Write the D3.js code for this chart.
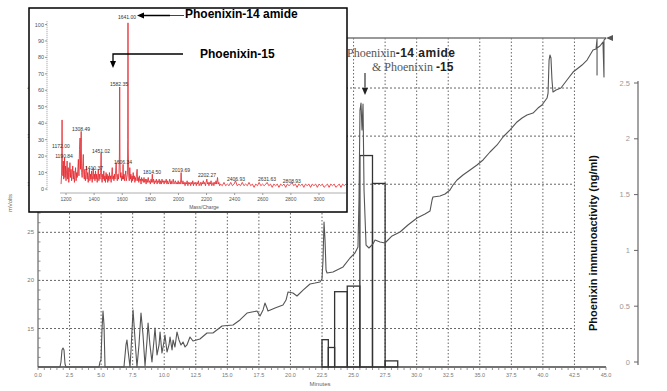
<!DOCTYPE html>
<html><head><meta charset="utf-8">
<script src="https://cdn.jsdelivr.net/npm/d3@7/dist/d3.min.js"></script>
<style>body{margin:0;background:#fff}svg{display:block}text{font-family:"Liberation Sans",Arial,sans-serif}</style>
</head><body>
<svg id="chart" width="667" height="391"></svg>
<script>
// ---------------- DATA ----------------
// HPLC chromatogram: [minutes, mVolts]
const chromatogram = [[0,11],[1.74,11],[1.82,11.52],[1.90,12.77],[1.98,12.98],[2.06,12.77],[2.14,11.31],[2.22,11],
[4.83,11],[4.91,11.52],[4.99,11.73],[5.07,14.85],[5.15,16.82],[5.23,15.37],[5.31,11],[6.81,11],[6.97,13.29],[7.05,13.81],
[7.13,12.77],[7.29,11],[7.37,12.77],[7.53,16.93],[7.69,13.81],[7.84,11],[8.00,13.29],[8.16,16.61],[8.32,14.33],[8.48,11.1],
[8.64,13.81],[8.72,15.57],[8.87,13.29],[9.03,11.52],[9.19,13.81],[9.27,15.05],[9.43,12.25],[9.59,13.29],[9.67,14.64],
[9.82,12.46],[9.98,13.6],[10.06,14.33],[10.22,12.56],[10.38,13.29],[10.46,14.12],[10.62,12.77],[10.70,13.81],[10.85,13.08],
[11.01,14.64],[11.17,13.81],[11.33,13.29],[11.49,13.6],[11.65,13.08],[11.80,13.29],[12.04,14.12],[12.28,13.7],[12.83,13.91],
[13.39,14.53],[13.86,14.53],[14.58,15.26],[15.45,15.37],[16.00,15.89],[16.56,16.61],[16.95,16.72],[17.35,16.82],[17.59,16.3],
[17.83,16.93],[17.98,17.65],[18.14,17.13],[18.22,16.82],[18.78,17.13],[19.41,17.44],[19.65,17.96],[19.81,18.8],[20.20,18.69],
[20.52,18.38],[21.00,19.0],[21.55,19.63],[21.95,19.73],[22.34,19.84],[22.50,20.15],[22.58,22.12],[22.66,26.07],[22.74,24.2],
[22.82,21.08],[22.90,20.77],[23.37,20.88],[24.17,21.4],[24.72,22.33],[25.11,22.85],[25.35,23.47],[25.43,28.36],[25.51,37.72],
[25.59,38.44],[25.67,35.64],[25.75,38.34],[25.83,29.4],[25.99,23.68],[26.22,23.37],[26.54,23.79],[26.70,24.2],[27.10,24.0],
[27.49,23.89],[28.05,24.62],[28.68,25.03],[29.31,25.76],[30.03,26.49],[30.66,26.9],[31.06,27.22],[31.22,28.36],[31.29,28.67],
[31.85,28.78],[32.25,28.98],[32.64,29.4],[32.88,29.92],[33.20,30.44],[33.67,30.96],[34.23,31.48],[34.78,32.0],[35.26,32.52],
[35.81,33.35],[36.37,34.08],[36.84,34.91],[37.40,35.64],[37.95,36.47],[38.35,36.88],[38.74,37.2],[39.22,37.4],[39.61,37.92],
[39.93,38.23],[40.33,38.96],[40.41,39.48],[40.49,42.91],[40.56,43.43],[40.64,43.12],[40.72,40.83],[40.80,39.59],[41.04,39.79],
[41.43,40.0],[41.91,40.83],[42.39,41.66],[42.70,41.98],[43.10,42.39],[43.50,42.91],[43.97,43.95],[44.21,44.06],[44.29,45.1],
[44.29,41.35],[44.29,44.16],[44.52,44.37],[44.76,44.78],[44.84,41.15],[44.84,44.99],[45.0,45.2]];

// Phoenixin immunoactivity per collected fraction (ng/ml)
const fractionStart = [22.5, 23.0, 23.5, 24.5, 25.5, 26.5, 27.5];
const fractionEnd   = [23.0, 23.5, 24.5, 25.5, 26.5, 27.5, 28.5];
const fractionNgMl  = [0.20, 0.13, 0.63, 0.68, 1.85, 1.60, 0.01];

// Axis ticks
const minuteTicks = [0,2.5,5,7.5,10,12.5,15,17.5,20,22.5,25,27.5,30,32.5,35,37.5,40,42.5,45];
const minuteTickLabels = ["0.0","2.5","5.0","7.5","10.0","12.5","15.0","17.5","20.0","22.5","25.0","27.5","30.0","32.5","35.0","37.5","40.0","42.5","45.0"];
const mvTicks = [15,20,25,30,35,40];
const ngTicks = [0,0.5,1,1.5,2,2.5];
const ngTickLabels = ["0","0.5","1","1.5","2","2.5"];

// Inset mass spectrum: [m/z, relative intensity]
const spectrum = [[1165,3],[1168,8],[1170,20],[1172,42],[1174,15],[1178,8],[1181,17],[1184,6],[1187,12],[1190,19],[1193,7],
[1196,14],[1200,5],[1204,11],[1208,17],[1212,6],[1216,13],[1220,4],[1224,10],[1228,16],[1232,7],[1236,12],[1240,5],[1244,9],
[1248,14],[1252,6],[1256,11],[1260,4],[1264,8],[1268,13],[1272,5],[1276,10],[1280,7],[1284,12],[1288,18],[1292,8],[1296,24],
[1300,31],[1303,12],[1306,26],[1308,35],[1311,10],[1315,7],[1319,14],[1323,21],[1326,9],[1330,6],[1334,12],[1338,5],[1342,9],
[1346,14],[1350,6],[1354,10],[1358,4],[1362,8],[1366,12],[1370,5],[1374,9],[1378,6],[1382,11],[1386,4],[1390,8],[1394,13],
[1398,6],[1402,9],[1406,5],[1410,11],[1414,6],[1418,9],[1422,4],[1426,8],[1430,12],[1434,5],[1438,9],[1442,6],[1446,10],
[1450,22],[1453,7],[1457,4],[1461,9],[1465,6],[1469,11],[1473,5],[1477,8],[1481,4],[1485,10],[1489,6],[1493,9],[1497,4],
[1501,8],[1505,5],[1509,10],[1513,6],[1517,8],[1521,4],[1525,9],[1529,13],[1533,6],[1537,8],[1541,5],[1545,9],[1549,6],
[1553,11],[1557,16],[1561,7],[1565,5],[1569,9],[1573,6],[1577,10],[1580,20],[1582,62],[1584,18],[1587,7],[1591,10],[1595,5],
[1599,8],[1603,6],[1606,15],[1609,6],[1613,9],[1617,5],[1621,8],[1625,11],[1629,5],[1633,7],[1637,9],[1639,30],[1641,101],
[1643,25],[1646,8],[1650,5],[1654,13],[1658,6],[1662,9],[1666,4],[1670,8],[1674,5],[1678,10],[1682,6],[1686,8],[1690,4],
[1694,7],[1698,5],[1702,9],[1706,12],[1710,5],[1714,7],[1718,4],[1722,8],[1726,5],[1730,6],[1734,3],[1738,7],[1742,5],
[1746,6],[1750,4],[1755,7],[1760,4],[1765,6],[1770,3],[1775,6],[1780,4],[1785,7],[1790,4],[1795,5],[1800,3],[1805,6],
[1810,4],[1814,9],[1818,4],[1823,6],[1828,3],[1833,5],[1838,4],[1843,6],[1848,3],[1853,5],[1858,4],[1863,6],[1868,3],
[1873,5],[1878,3],[1883,6],[1888,4],[1893,5],[1898,3],[1903,5],[1908,4],[1913,6],[1918,3],[1923,5],[1928,3],[1933,4],
[1938,6],[1943,3],[1948,5],[1953,3],[1958,4],[1963,6],[1968,3],[1973,4],[1978,5],[1983,3],[1988,4],[1993,3],[1998,5],
[2003,3],[2008,4],[2013,3],[2017,6],[2019,10],[2022,4],[2027,3],[2032,5],[2037,3],[2042,4],[2047,2],[2052,4],[2057,3],
[2062,5],[2067,2],[2072,4],[2077,3],[2082,4],[2087,2],[2092,4],[2097,3],[2102,5],[2107,2],[2112,4],[2117,3],[2122,4],
[2127,2],[2132,4],[2137,3],[2142,5],[2147,2],[2152,3],[2157,4],[2162,2],[2167,4],[2172,3],[2177,5],[2182,3],[2187,4],
[2192,2],[2197,4],[2202,6],[2207,3],[2212,4],[2217,2],[2222,4],[2227,3],[2232,5],[2237,2],[2242,3],[2247,4],[2252,2],
[2257,4],[2262,3],[2267,5],[2272,3],[2278,7],[2283,3],[2288,4],[2293,2],[2300,3],[2312,2],[2324,4],[2336,2],[2348,3],
[2360,2],[2372,4],[2384,2],[2396,3],[2406,5],[2418,2],[2430,3],[2442,2],[2454,4],[2466,2],[2478,3],[2490,2],[2502,4],
[2514,2],[2526,3],[2538,1],[2550,3],[2562,2],[2574,4],[2586,2],[2598,3],[2610,2],[2622,3],[2631,4],[2643,2],[2655,3],
[2667,1],[2679,3],[2691,2],[2703,3],[2715,1],[2727,3],[2739,2],[2751,3],[2763,1],[2775,3],[2787,2],[2799,3],[2808,4],
[2820,2],[2832,3],[2844,1],[2856,3],[2868,2],[2880,3],[2892,1],[2904,3],[2916,2],[2928,3],[2940,1],[2952,3],[2964,2],
[2976,3],[2988,1],[3000,3],[3012,2],[3024,3],[3036,1],[3048,2],[3060,3],[3072,1],[3084,3],[3096,2],[3108,3],[3120,1],
[3132,2],[3144,3],[3156,1],[3168,3],[3180,2],[3192,3],[3205,2]];

const peakLabels = ["1641.00","1582.35","1308.49","1172.00","1190.84","1410.37","1451.02","1606.34","1814.50","2019.69","2202.27","2406.93","2631.63","2808.93"];
const peakLabelMz = [1634,1577,1307,1164,1186,1399,1449,1605,1812,2018,2203,2409,2630,2807];
const peakLabelLevel = [104.6,63.8,36.5,26,20,12.8,23,16.4,10.3,11.5,8.5,6.1,6.1,4.9];
const mzTicks = [1200,1400,1600,1800,2000,2200,2400,2600,2800,3000];
const intensityTicks = [0,10,20,30,40,50,60,70,80,90,100];

// ---------------- DRAW ----------------
const svg = d3.select("#chart");
const x = d3.scaleLinear().domain([0,45]).range([38,606]);
const y = d3.scaleLinear().domain([11,45.2]).range([367,38]);
const yR = d3.scaleLinear().domain([0,2.5]).range([362,83]);

const main = svg.append("g");
// grid
main.append("g").selectAll("line").data(minuteTicks.filter(d=>d>0&&d<45)).join("line")
  .attr("x1",d=>x(d)).attr("x2",d=>x(d)).attr("y1",y(45.2)).attr("y2",y(11))
  .attr("stroke","#666").attr("stroke-width",1).attr("stroke-dasharray","1.5,2");
main.append("g").selectAll("line").data(mvTicks).join("line")
  .attr("x1",x(0)).attr("x2",x(42.5)).attr("y1",d=>y(d)).attr("y2",d=>y(d))
  .attr("stroke","#666").attr("stroke-width",1).attr("stroke-dasharray","2,2");

// frame lines
main.append("line").attr("x1",x(0)).attr("x2",x(45)).attr("y1",y(45.2)).attr("y2",y(45.2)).attr("stroke","#777").attr("stroke-width",1.6);
main.append("path").attr("d",`M${x(45)},${y(45.2)} l7,-3 l0,6 z`).attr("fill","#555");
main.append("line").attr("x1",x(0)).attr("x2",x(0)).attr("y1",y(45.2)).attr("y2",y(11)).attr("stroke","#666").attr("stroke-width",1.2);
main.append("line").attr("x1",x(0)).attr("x2",x(45)).attr("y1",y(11)).attr("y2",y(11)).attr("stroke","#444").attr("stroke-width",1.3);

// minor ticks
const minor = d3.range(0,45.01,0.5);
main.append("g").selectAll("line").data(minor).join("line")
  .attr("x1",d=>x(d)).attr("x2",d=>x(d)).attr("y1",y(11)).attr("y2",y(11)+3)
  .attr("stroke","#777").attr("stroke-width",0.8);
main.append("g").selectAll("line").data(d3.range(12,45,1)).join("line")
  .attr("x1",x(0)).attr("x2",x(0)+2.5).attr("y1",d=>y(d)).attr("y2",d=>y(d))
  .attr("stroke","#777").attr("stroke-width",0.8);

// tick labels
main.append("g").selectAll("text").data(minuteTicks).join("text")
  .attr("x",d=>x(d)).attr("y",y(11)+10).attr("text-anchor","middle")
  .attr("font-size",5.5).attr("fill","#777").text((d,i)=>minuteTickLabels[i]);
main.append("g").selectAll("text").data(mvTicks).join("text")
  .attr("x",x(0)-4).attr("y",d=>y(d)+2).attr("text-anchor","end")
  .attr("font-size",6).attr("fill","#777").text(d=>d);
main.append("text").attr("x",320).attr("y",386).attr("text-anchor","middle").attr("font-size",6).attr("fill","#666").text("Minutes");
main.append("text").attr("transform","translate(12,203) rotate(-90)").attr("text-anchor","middle").attr("font-size",6).attr("fill","#666").text("mVolts");

// fraction bars
main.append("g").selectAll("rect").data(fractionNgMl).join("rect")
  .attr("x",(d,i)=>x(fractionStart[i])).attr("width",(d,i)=>x(fractionEnd[i])-x(fractionStart[i]))
  .attr("y",d=>yR(d)).attr("height",d=>y(11)-yR(d))
  .attr("fill","none").attr("stroke","#333").attr("stroke-width",1.3);

// chromatogram trace
main.append("path").datum(chromatogram)
  .attr("d",d3.line().x(d=>x(d[0])).y(d=>y(d[1])))
  .attr("fill","none").attr("stroke","#555").attr("stroke-width",1.1).attr("stroke-linejoin","round");

// right axis
const ra = main.append("g");
ra.append("line").attr("x1",638).attr("x2",638).attr("y1",yR(2.5)-2).attr("y2",yR(0)+3).attr("stroke","#666").attr("stroke-width",1.2);
ra.selectAll(".t").data(ngTicks).join("line").attr("x1",634).attr("x2",638).attr("y1",d=>yR(d)).attr("y2",d=>yR(d)).attr("stroke","#666");
ra.selectAll("text").data(ngTicks).join("text").attr("x",630).attr("y",d=>yR(d)+2.5).attr("text-anchor","end")
  .attr("font-size",7.5).attr("fill","#999").text((d,i)=>ngTickLabels[i]);
main.append("text").attr("transform","translate(597,243) rotate(-90)").attr("text-anchor","middle")
  .attr("font-size",11).attr("font-weight","bold").attr("fill","#111").text("Phoenixin immunoactivity (ng/ml)");

// main annotation
const ann = main.append("text").attr("x",347).attr("y",57);
ann.append("tspan").attr("font-family","'Liberation Serif',serif").attr("font-size",12).attr("fill","#555").text("Phoenixin");
ann.append("tspan").attr("font-weight","bold").attr("font-size",12).attr("fill","#222").attr("letter-spacing",0.5).text("-14 amide");
const ann2 = main.append("text").attr("x",372).attr("y",71);
ann2.append("tspan").attr("font-family","'Liberation Serif',serif").attr("font-size",12).attr("fill","#555").text("& Phoenixin ");
ann2.append("tspan").attr("font-weight","bold").attr("font-size",12).attr("fill","#222").text("-15");
main.append("line").attr("x1",365).attr("x2",365).attr("y1",73).attr("y2",89).attr("stroke","#333").attr("stroke-width",1.2);
main.append("path").attr("d","M362,88 L368,88 L365,95 Z").attr("fill","#222");

// ---------------- INSET ----------------
const inset = svg.append("g");
inset.append("rect").attr("x",29).attr("y",8).attr("width",318).attr("height",204).attr("fill","#fff").attr("stroke","#000").attr("stroke-width",1.5);
const ix = d3.scaleLinear().domain([1200,3000]).range([66,319]);
const iy = d3.scaleLinear().domain([0,100]).range([189,24.5]);
svg.append("clipPath").attr("id","ic").append("rect").attr("x",30).attr("y",9).attr("width",316).attr("height",202);

inset.append("line").attr("x1",47).attr("x2",47).attr("y1",iy(102)).attr("y2",iy(0)+2).attr("stroke","#999").attr("stroke-dasharray","1,1");
inset.append("g").selectAll("line").data(intensityTicks).join("line").attr("x1",45).attr("x2",47).attr("y1",d=>iy(d)).attr("y2",d=>iy(d)).attr("stroke","#999");
inset.append("g").selectAll("text").data(intensityTicks).join("text").attr("x",44).attr("y",d=>iy(d)+2).attr("text-anchor","end")
  .attr("font-size",5.5).attr("fill","#555").text(d=>d);
inset.append("line").attr("x1",60).attr("x2",346).attr("y1",193).attr("y2",193).attr("stroke","#999").attr("stroke-width",0.8);
inset.append("g").selectAll("line").data(mzTicks).join("line").attr("x1",d=>ix(d)).attr("x2",d=>ix(d)).attr("y1",193).attr("y2",195).attr("stroke","#999");
inset.append("g").selectAll("text").data(mzTicks).join("text").attr("x",d=>ix(d)).attr("y",201).attr("text-anchor","middle")
  .attr("font-size",5).attr("fill","#555").text(d=>d);
inset.append("text").attr("x",204).attr("y",209).attr("text-anchor","middle").attr("font-size",5).attr("fill","#555").text("Mass/Charge");

inset.append("path").datum(spectrum).attr("clip-path","url(#ic)")
  .attr("d",d3.line().x(d=>ix(d[0])).y(d=>iy(d[1])))
  .attr("fill","none").attr("stroke","#e3242b").attr("stroke-width",0.8);

inset.append("g").selectAll("text").data(peakLabels).join("text")
  .attr("x",(d,i)=>ix(peakLabelMz[i])).attr("y",(d,i)=>iy(peakLabelLevel[i])+2)
  .attr("text-anchor","middle").attr("font-size",5).attr("fill","#333").text(d=>d);

// inset annotations
inset.append("line").attr("x1",142).attr("x2",170).attr("y1",15.5).attr("y2",15.5).attr("stroke","#000").attr("stroke-width",1.5);
inset.append("line").attr("x1",170).attr("x2",184).attr("y1",15.5).attr("y2",15.5).attr("stroke","#444").attr("stroke-width",1);
inset.append("path").attr("d","M137,15.5 L144,12.5 L144,18.5 Z").attr("fill","#000");
inset.append("text").attr("x",185).attr("y",17.5).attr("font-size",12).attr("font-weight","bold").attr("fill","#000").text("Phoenixin-14 amide");
inset.append("path").attr("d","M183,54 L113,54 L113,62").attr("fill","none").attr("stroke","#000").attr("stroke-width",1.3);
inset.append("path").attr("d","M110,61 L116,61 L113,68 Z").attr("fill","#000");
inset.append("text").attr("x",200).attr("y",57.5).attr("font-size",12).attr("font-weight","bold").attr("fill","#000").text("Phoenixin-15");
</script>
</body></html>
